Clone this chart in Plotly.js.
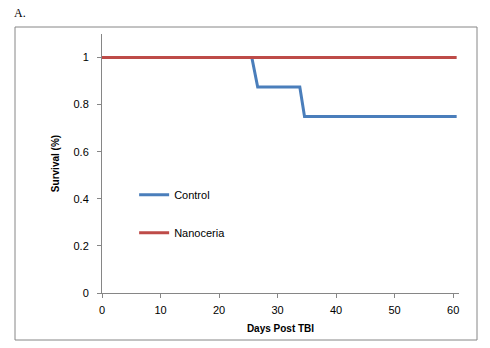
<!DOCTYPE html>
<html>
<head>
<meta charset="utf-8">
<script src="https://cdn.plot.ly/plotly-3.0.1.min.js"></script>
<style>
html,body{margin:0;padding:0;background:#fff;}
#chart{width:490px;height:348px;}
</style>
</head>
<body>
<div id="chart"></div>
<script>
// Data
var controlDays = [0, 25.6, 26.6, 33.8, 34.6, 60.6];
var controlSurvival = [1, 1, 0.875, 0.875, 0.75, 0.75];
var nanoDays = [0, 60.6];
var nanoSurvival = [1, 1];
var seriesNames = ["Control", "Nanoceria"];
var xTicks = [0, 10, 20, 30, 40, 50, 60];
var yTicks = [0, 0.2, 0.4, 0.6, 0.8, 1];
var yTickLabels = ["0", "0.2", "0.4", "0.6", "0.8", "1"];

var traces = [
  {x: controlDays, y: controlSurvival, name: seriesNames[0], mode: "lines",
   line: {color: "#4A7EBB", width: 3}, legendgroup: "a"},
  {x: nanoDays, y: nanoSurvival, name: seriesNames[1], mode: "lines",
   line: {color: "#BE4B48", width: 3}, legendgroup: "b"}
];

var axisFont = {family: "Liberation Sans, Arial, sans-serif", size: 11, color: "#000"};
var titleFont = {family: "Liberation Sans, Arial, sans-serif", size: 10, color: "#000"};

var layout = {
  width: 490, height: 348,
  margin: {l: 102, r: 31, t: 34, b: 55},
  paper_bgcolor: "#fff", plot_bgcolor: "#fff",
  showlegend: true,
  legend: {x: 0.09, y: 0.435, xanchor: "left", yanchor: "top",
           bgcolor: "rgba(0,0,0,0)", font: axisFont,
           traceorder: "grouped", tracegroupgap: 19},
  xaxis: {range: [0, 61], tickvals: xTicks, ticktext: xTicks.map(String),
          showgrid: false, zeroline: false, showline: true, linecolor: "#868686", linewidth: 1,
          ticks: "outside", ticklen: 4, tickcolor: "#868686", tickfont: axisFont,
          ticklabelstandoff: 3,
          title: {text: "<b>Days Post TBI</b>", font: titleFont, standoff: 9}},
  yaxis: {range: [0, 1.1], tickvals: yTicks, ticktext: yTickLabels,
          showgrid: false, zeroline: false, showline: true, linecolor: "#868686", linewidth: 1,
          ticks: "outside", ticklen: 4, tickcolor: "#868686", tickfont: axisFont,
          ticklabelstandoff: 6,
          title: {text: "<b>Survival (%)</b>", font: titleFont, standoff: 12}},
  shapes: [
    {type: "rect", xref: "paper", yref: "paper",
     x0: -87/357, x1: 375/357, y0: -47/259, y1: 266/259,
     line: {color: "#868686", width: 1}, fillcolor: "rgba(0,0,0,0)", layer: "below"}
  ],
  annotations: [
    {text: "A.", xref: "paper", yref: "paper", x: -90/357, y: 280/259,
     xanchor: "left", yanchor: "middle", showarrow: false,
     font: {family: "Liberation Serif, Times New Roman, serif", size: 12, color: "#000"}}
  ]
};

Plotly.newPlot("chart", traces, layout, {displayModeBar: false, staticPlot: true});
</script>
</body>
</html>
